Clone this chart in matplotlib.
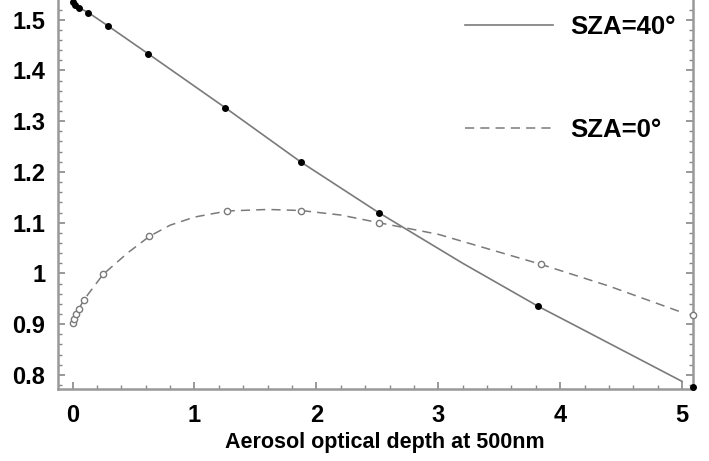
import matplotlib
matplotlib.use("Agg")
import matplotlib.pyplot as plt
from matplotlib.ticker import MultipleLocator, FuncFormatter

plt.rcParams['font.family'] = ['Liberation Sans', 'DejaVu Sans']

# SZA=40 : points mesures et courbe
aod40_pts = [0.0, 0.02, 0.05, 0.13, 0.29, 0.62, 1.25, 1.87, 2.51, 3.82, 5.09]
val40_pts = [1.535, 1.530, 1.524, 1.514, 1.488, 1.433, 1.327, 1.220, 1.120, 0.935, 0.775]
aod40_line = [0.0, 0.05, 0.13, 0.29, 0.62, 1.25, 1.87, 2.51, 3.2, 3.82, 4.1, 5.0]
val40_line = [1.535, 1.524, 1.514, 1.488, 1.433, 1.327, 1.220, 1.120, 1.020, 0.935, 0.900, 0.787]

# SZA=0 : points mesures et courbe
aod0_pts = [0.0, 0.01, 0.03, 0.05, 0.09, 0.25, 0.63, 1.27, 1.87, 2.51, 3.84, 5.09]
val0_pts = [0.902, 0.910, 0.920, 0.930, 0.947, 0.998, 1.073, 1.122, 1.122, 1.100, 1.018, 0.917]
aod0_line = [0.0, 0.03, 0.09, 0.25, 0.45, 0.63, 0.8, 1.0, 1.27, 1.6, 1.87, 2.2, 2.51, 3.0, 3.84, 4.4, 5.0]
val0_line = [0.902, 0.920, 0.947, 0.998, 1.040, 1.073, 1.095, 1.111, 1.123, 1.126, 1.124, 1.115, 1.100, 1.077, 1.018, 0.975, 0.923]

xticks = [0, 1, 2, 3, 4, 5]
yticks = [0.8, 0.9, 1.0, 1.1, 1.2, 1.3, 1.4, 1.5]

fig = plt.figure(figsize=(7.09, 4.61), dpi=100)
ax = fig.add_axes([0.0818, 0.1562, 0.8956, 0.8438])

gris = "#7a7a7a"
l40, = ax.plot(aod40_line, val40_line, "-", color=gris, lw=1.2, label="SZA=40°")
ax.plot(aod40_pts, val40_pts, "o", color="k", ms=4, ls="none", clip_on=False, zorder=5)
l0, = ax.plot(aod0_line, val0_line, "--", color=gris, lw=1.1, dashes=(6, 4), label="SZA=0°")
ax.plot(aod0_pts, val0_pts, "o", mfc="white", mec=gris, mew=1.0, ms=4.5, ls="none",
        clip_on=False, zorder=5)

ax.set_xlim(-0.12, 5.09)
ax.set_ylim(0.772, 1.539)
ax.set_xticks(xticks)
ax.set_yticks(yticks)
ax.xaxis.set_minor_locator(MultipleLocator(0.2))
ax.yaxis.set_minor_locator(MultipleLocator(0.02))
ax.yaxis.set_major_formatter(FuncFormatter(lambda v, p: "1" if abs(v - 1) < 1e-9 else "%g" % v))

for s in ["left", "right", "bottom"]:
    ax.spines[s].set_color("#999999")
    ax.spines[s].set_linewidth(1.8)
ax.spines["top"].set_visible(False)

ax.tick_params(which="both", direction="in", color="#888888", right=True, top=False)
ax.tick_params(which="major", length=5, width=1.2)
ax.tick_params(which="minor", length=3, width=1.0)
ax.tick_params(axis="x", which="major", pad=11, labelsize=17)
ax.tick_params(axis="y", which="major", pad=9, labelsize=17)
for t in ax.get_xticklabels() + ax.get_yticklabels():
    t.set_fontweight("bold")

ax.set_xlabel("Aerosol optical depth at 500nm", fontsize=15.5, fontweight="bold", labelpad=3)
ax.xaxis.set_label_coords(0.515, -0.11)

leg = ax.legend(handles=[l40, l0], loc="upper left", bbox_to_anchor=(0.605, 1.02),
                frameon=False, handlelength=3.4, handletextpad=0.7, labelspacing=3.05,
                prop={"size": 18.5, "weight": "bold"})

fig.savefig("out.png", dpi=100)
